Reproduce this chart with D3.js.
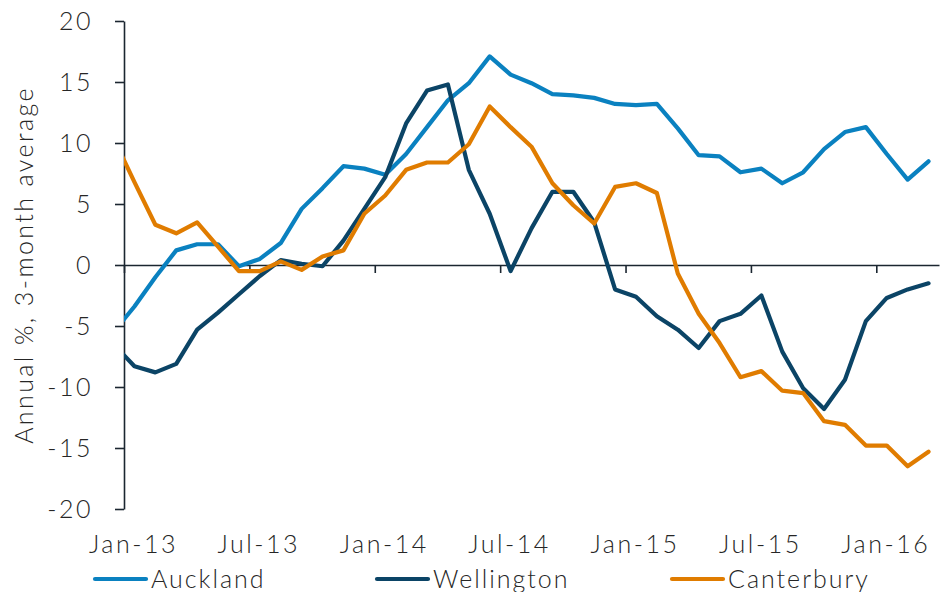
<!DOCTYPE html>
<html><head><meta charset="utf-8">
<script src="https://cdn.jsdelivr.net/npm/d3@7"></script>
<style>
body{margin:0;background:#fff}
text{font-family:Lato,"DejaVu Sans",sans-serif;font-weight:300;fill:#262626}
</style>
</head><body><svg id="c" width="947" height="592"></svg>
<script>
const months = ["Dec-12","Jan-13","Feb-13","Mar-13","Apr-13","May-13","Jun-13","Jul-13","Aug-13","Sep-13","Oct-13","Nov-13","Dec-13",
"Jan-14","Feb-14","Mar-14","Apr-14","May-14","Jun-14","Jul-14","Aug-14","Sep-14","Oct-14","Nov-14","Dec-14",
"Jan-15","Feb-15","Mar-15","Apr-15","May-15","Jun-15","Jul-15","Aug-15","Sep-15","Oct-15","Nov-15","Dec-15",
"Jan-16","Feb-16","Mar-16"];
const auckland = [-5.5,-3.4,-1.0,1.2,1.7,1.7,-0.1,0.5,1.8,4.6,6.3,8.1,7.9,7.4,9.1,11.3,13.5,14.9,17.1,15.6,14.9,14.0,13.9,13.7,13.2,13.1,13.2,11.2,9.0,8.9,7.6,7.9,6.7,7.6,9.5,10.9,11.3,9.1,7.0,8.5];
const wellington = [-6.5,-8.3,-8.8,-8.1,-5.3,-3.9,-2.4,-0.9,0.4,0.1,-0.1,2.0,4.6,7.2,11.6,14.3,14.8,7.8,4.2,-0.5,3.0,6.0,6.0,3.5,-2.0,-2.6,-4.2,-5.3,-6.8,-4.6,-4.0,-2.5,-7.1,-10.1,-11.8,-9.4,-4.6,-2.7,-2.0,-1.5];
const canterbury = [10.4,6.8,3.3,2.6,3.5,1.5,-0.5,-0.5,0.3,-0.4,0.7,1.2,4.2,5.7,7.8,8.4,8.4,9.9,13.0,11.3,9.7,6.7,4.9,3.4,6.4,6.7,5.9,-0.7,-4.0,-6.4,-9.2,-8.7,-10.3,-10.5,-12.8,-13.1,-14.8,-14.8,-16.5,-15.3];
const seriesNames = ["Auckland","Wellington","Canterbury"];
const seriesColors = ["#0a81c0","#0b4466","#e07c00"];
const xTickLabels = ["Jan-13","Jul-13","Jan-14","Jul-14","Jan-15","Jul-15","Jan-16"];
const yTicks = [-20,-15,-10,-5,0,5,10,15,20];
const yTitle = "Annual %, 3-month average";

const svg = d3.select("#c");
const L = 124, R = 939, T = 21, B = 509;
const first = months.indexOf("Jan-13");
const nCat = months.length - first;
const x = d3.scaleLinear().domain([-0.5, nCat - 0.5]).range([L, R]);
const y = d3.scaleLinear().domain([-20, 20]).range([B, T]);
const xi = i => x(i - first);

svg.append("defs").append("clipPath").attr("id","clip")
  .append("rect").attr("x",L).attr("y",0).attr("width",R-L).attr("height",592);

// y axis
const ya = svg.append("g").attr("transform",`translate(${L},0)`)
  .call(d3.axisLeft(y).tickValues(yTicks).tickSize(9).tickSizeOuter(0).tickPadding(22).tickFormat(d => String(d)));
ya.selectAll("path,line").attr("stroke","#1b2630").attr("stroke-width",1.6);
ya.selectAll("text").style("font-size","25px").attr("fill","#262626").attr("font-family",null).attr("letter-spacing","2.5px");

// x axis at zero
const xTickVals = xTickLabels.map(l => months.indexOf(l) - first - 0.5);
const xa = svg.append("g").attr("transform",`translate(0,${y(0)})`)
  .call(d3.axisBottom(x).tickValues(xTickVals).tickSize(8).tickSizeOuter(0).tickFormat(""));
xa.selectAll("path,line").attr("stroke","#1b2630").attr("stroke-width",1.6);

svg.append("g").selectAll("text").data(xTickLabels).join("text")
  .attr("x", l => xi(months.indexOf(l)) - 1)
  .attr("y", 553)
  .attr("text-anchor","middle")
  .style("font-size","25px").attr("letter-spacing","2.5px")
  .text(d => d);

// title
svg.append("text").attr("transform","translate(33,265) rotate(-90)")
  .attr("text-anchor","middle").style("font-size","25px").attr("letter-spacing","2.4px").text(yTitle);

// lines
const data = [auckland, wellington, canterbury];
const line = d3.line().x((d,i) => xi(i)).y(d => y(d));
svg.append("g").attr("clip-path","url(#clip)").selectAll("path").data(data).join("path")
  .attr("d", line).attr("fill","none")
  .attr("stroke",(d,i) => seriesColors[i]).attr("stroke-width",4.2)
  .attr("stroke-linejoin","round").attr("stroke-linecap","round");

// legend
const legX = [95, 377, 672];
const lg = svg.append("g");
seriesNames.forEach((n,i) => {
  lg.append("line").attr("x1",legX[i]).attr("x2",legX[i]+51).attr("y1",579).attr("y2",579)
    .attr("stroke",seriesColors[i]).attr("stroke-width",4.2).attr("stroke-linecap","round");
  lg.append("text").attr("x",legX[i]+56).attr("y",588).style("font-size","25px").attr("letter-spacing","2px").text(n);
});
</script></body></html>
